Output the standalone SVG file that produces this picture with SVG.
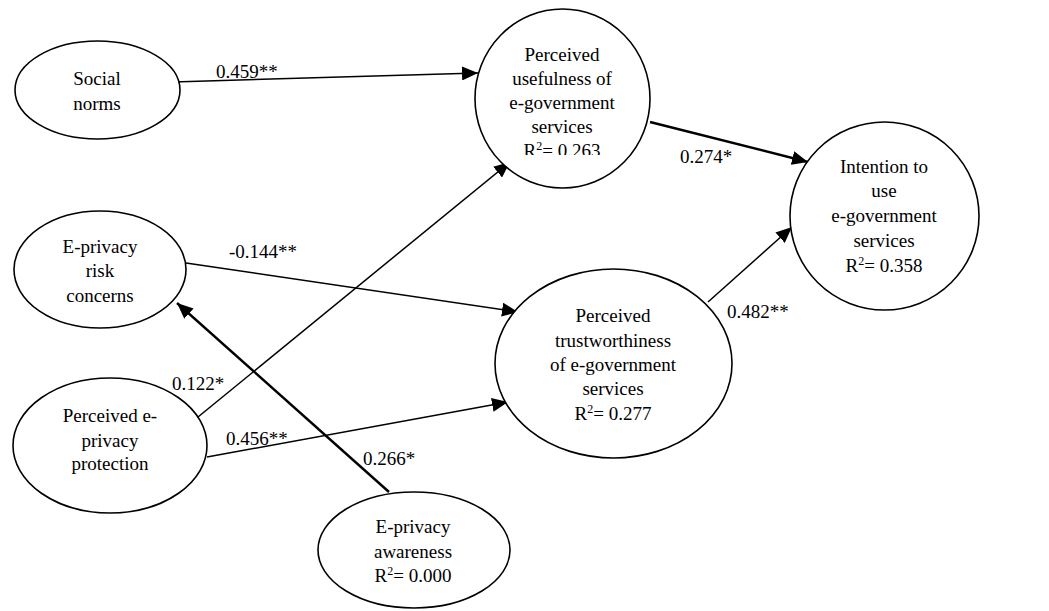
<svg xmlns="http://www.w3.org/2000/svg" width="1049" height="611" viewBox="0 0 1049 611">
<style>
.node{fill:#fff;stroke:#000;stroke-width:1.6}
text{font-family:"Liberation Serif",Tinos,"Noto Serif","DejaVu Serif","Times New Roman",Times,serif;font-size:19px;fill:#000}
.t{text-anchor:middle}
.edge{stroke:#000;stroke-width:1.5;fill:none;marker-end:url(#ah)}
.thick{stroke-width:2.4}
.sup{font-size:12px}
</style>
<defs>
<marker id="ah" markerUnits="userSpaceOnUse" markerWidth="18" markerHeight="14" refX="16" refY="7" orient="auto">
<path d="M0,0 L16,7 L0,14 Z" fill="#000"/>
</marker>
<clipPath id="clipPU"><rect x="470" y="0" width="190" height="155"/></clipPath>
</defs>
<rect width="1049" height="611" fill="#fff"/>
<g id="connectors">
<line class="edge" x1="173" y1="82" x2="478" y2="73"/>
<line class="edge thick" x1="650" y1="122" x2="808" y2="162"/>
<line class="edge" x1="198" y1="417" x2="510" y2="162"/>
<line class="edge" x1="186" y1="263" x2="518" y2="312"/>
<line class="edge" x1="207" y1="457" x2="508" y2="402"/>
<line class="edge thick" x1="389" y1="492" x2="177" y2="303"/>
<line class="edge" x1="708" y1="302" x2="792" y2="227"/>
<text x="216" y="78">0.459**</text>
<text x="680" y="163">0.274*</text>
<text x="229" y="258">-0.144**</text>
<text x="172" y="390">0.122*</text>
<text x="226" y="445">0.456**</text>
<text x="363" y="465">0.266*</text>
<text x="727" y="318">0.482**</text>
</g>
<g id="social-norms">
<ellipse class="node" cx="97.5" cy="90" rx="82.5" ry="49"/>
<text class="t" x="97" y="85">Social</text>
<text class="t" x="97" y="110">norms</text>
</g>
<g id="perceived-usefulness">
<ellipse class="node" cx="562.5" cy="98.5" rx="87.5" ry="89.5"/>
<g clip-path="url(#clipPU)">
<text class="t" x="562" y="61">Perceived</text>
<text class="t" x="562" y="85">usefulness of</text>
<text class="t" x="562" y="109">e-government</text>
<text class="t" x="562" y="133">services</text>
<text class="t" x="562" y="157">R<tspan class="sup" baseline-shift="super">2</tspan>= 0.263</text>
</g>
</g>
<g id="intention">
<ellipse class="node" cx="884.5" cy="216" rx="94.5" ry="94"/>
<text class="t" x="884" y="173">Intention to</text>
<text class="t" x="884" y="197">use</text>
<text class="t" x="884" y="222">e-government</text>
<text class="t" x="884" y="247">services</text>
<text class="t" x="884" y="272">R<tspan class="sup" baseline-shift="super">2</tspan>= 0.358</text>
</g>
<g id="risk-concerns">
<ellipse class="node" cx="100" cy="269.5" rx="86" ry="58.5"/>
<text class="t" x="100" y="253">E-privacy</text>
<text class="t" x="100" y="277">risk</text>
<text class="t" x="100" y="302">concerns</text>
</g>
<g id="privacy-protection">
<ellipse class="node" cx="110" cy="445.5" rx="97" ry="67.5"/>
<text class="t" x="110" y="422">Perceived e-</text>
<text class="t" x="110" y="447">privacy</text>
<text class="t" x="110" y="470">protection</text>
</g>
<g id="privacy-awareness">
<ellipse class="node" cx="414" cy="550" rx="96" ry="58"/>
<text class="t" x="413" y="533">E-privacy</text>
<text class="t" x="413" y="558">awareness</text>
<text class="t" x="413" y="582">R<tspan class="sup" baseline-shift="super">2</tspan>= 0.000</text>
</g>
<g id="perceived-trustworthiness">
<ellipse class="node" cx="613.5" cy="363.5" rx="118.5" ry="94.5"/>
<text class="t" x="613" y="322">Perceived</text>
<text class="t" x="613" y="347">trustworthiness</text>
<text class="t" x="613" y="371">of e-government</text>
<text class="t" x="613" y="395">services</text>
<text class="t" x="613" y="420">R<tspan class="sup" baseline-shift="super">2</tspan>= 0.277</text>
</g>
</svg>
